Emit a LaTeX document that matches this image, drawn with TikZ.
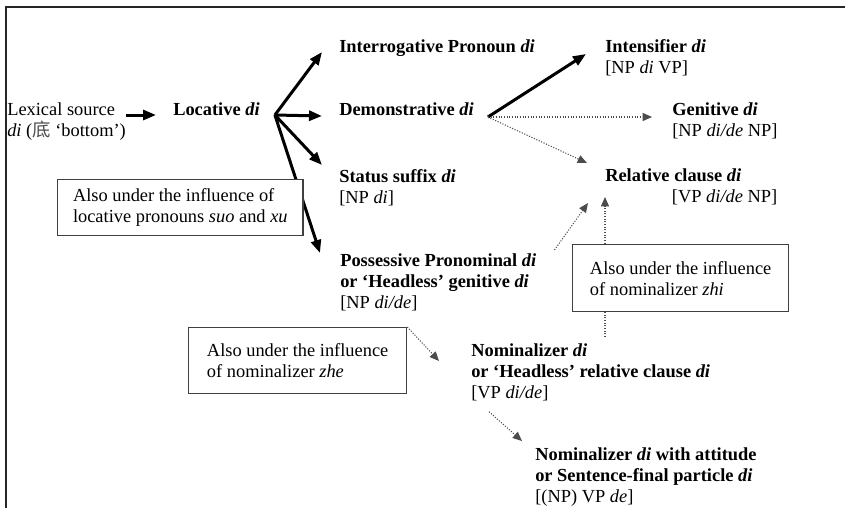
\documentclass[tikz,border=0pt]{standalone}
\usepackage{fontspec}
\setmainfont{Liberation Serif}
\newfontfamily\cjkfont{Noto Sans CJK SC}
\usepackage{tikz}
\usetikzlibrary{arrows.meta, positioning, calc}

\newcommand{\diafont}{\fontsize{13.8pt}{15.75pt}\selectfont}

\begin{document}
\begin{tikzpicture}[
  x=0.75pt, y=-0.75pt,
  stage/.style={anchor=base west, align=left, inner sep=0pt, font=\diafont},
  notebox/.style={draw=black!75, line width=1pt, fill=white, anchor=north west, align=left, inner xsep=11.5pt, inner ysep=0pt, font=\diafont},
  strong/.style={line width=2.25pt, ->, >={Triangle[length=9.75pt, width=7.5pt]}},
  weak/.style={line width=0.8pt, draw=black!70, dash pattern=on 0.8pt off 1.2pt, ->, >={Triangle[length=7pt, width=6pt]}}
]
  \useasboundingbox (0,0) rectangle (845,508);
  \draw [line width=1.5pt, black!85] (6,508) -- (6,7) -- (845,7);

  % Left part: source and locative (base = last line)
  \node (lexsrc) [stage] at (7,136) {Lexical source\\\textit{di} ({\cjkfont\color{black!70}底} ‘bottom’)};
  \node (locative) [stage] at (173,115) {\textbf{Locative \textit{di}}};

  % Middle column
  \node (interr) [stage] at (339,52) {\textbf{Interrogative Pronoun \textit{di}}};
  \node (demon) [stage] at (339,115) {\textbf{Demonstrative \textit{di}}};
  \node (status) [stage] at (339,203) {\textbf{Status suffix \textit{di}}\\{[NP} \textit{di}]};
  \node (possess) [stage] at (340,308) {\textbf{Possessive Pronominal \textit{di}}\\\textbf{or ‘Headless’ genitive \textit{di}}\\{[NP} \textit{di/de}]};

  % Right column
  \node (intens) [stage] at (605,73) {\textbf{Intensifier \textit{di}}\\{[NP} \textit{di} VP]};
  \node (genit) [stage] at (672,136) {\textbf{Genitive \textit{di}}\\{[NP} \textit{di/de} NP]};
  \node (relcl) [stage] at (605,202) {\textbf{Relative clause \textit{di}}\\\hspace*{50pt}{[VP} \textit{di/de} NP]};

  % Lower part
  \node (nomin) [stage] at (471,398) {\textbf{Nominalizer \textit{di}}\\\textbf{or ‘Headless’ relative clause \textit{di}}\\{[VP} \textit{di/de}]};
  \node (nomatt) [stage] at (535,502) {\textbf{Nominalizer \textit{di} with attitude}\\\textbf{or Sentence-final particle \textit{di}}\\{[(NP)} VP \textit{de}]};
  \node (zhebox) [notebox, minimum width=163.5pt, minimum height=49.5pt] at (188,327) {Also under the influence\\of nominalizer \textit{zhe}};

  % Solid arrows
  \draw [strong] (lexsrc.east |- locative.base) -- ([xshift=-12.75pt]locative.base west);
  \coordinate (locfan) at ($(locative.base east)+(15,0)$);
  \draw [strong] (locfan) -- ($(interr.base west)+(-17,0)$);
  \draw [strong] (locfan) -- ($(demon.base west)+(-17,1)$);
  \draw [strong] (locfan) -- ($(status.base west)+(-17,-38)$);
  \draw [strong] (locfan) -- ($(possess.base west)+(-20,-55)$);
  \coordinate (demfan) at ($(demon.base east)+(14,2)$);
  \draw [strong] (demfan) -- ($(intens.base west)+(-19,-19)$);

  % Dotted arrows
  \draw [weak] (demfan) -- ($(genit.base west)+(-20,-19)$);
  \draw [weak] (demfan) -- ($(relcl.base west)+(-18,-39)$);
  \draw [weak] ($(possess.north east)+(18,-3)$) -- ($(relcl.base west)+(-17,1)$);
  \draw [weak] ($(relcl.base west |- nomin.north)+(0,-6)$) -- ($(relcl.base west)+(0,-5)$);
  \draw [weak] (zhebox.north east) -- ($(nomin.base west)+(-32,-37)$);
  \draw [weak] ($(nomin.south west)+(18,11)$) -- ($(nomatt.base west)+(-13,-61)$);

  % Boxes lying over the lines
  \node (locbox) [notebox, minimum height=42pt] at (57,179) {Also under the influence of\\locative pronouns \textit{suo} and \textit{xu}};
  \node (zhibox) [notebox, minimum width=162pt, minimum height=50.25pt] at (572,244) {Also under the influence\\of nominalizer \textit{zhi}};

\end{tikzpicture}
\end{document}
